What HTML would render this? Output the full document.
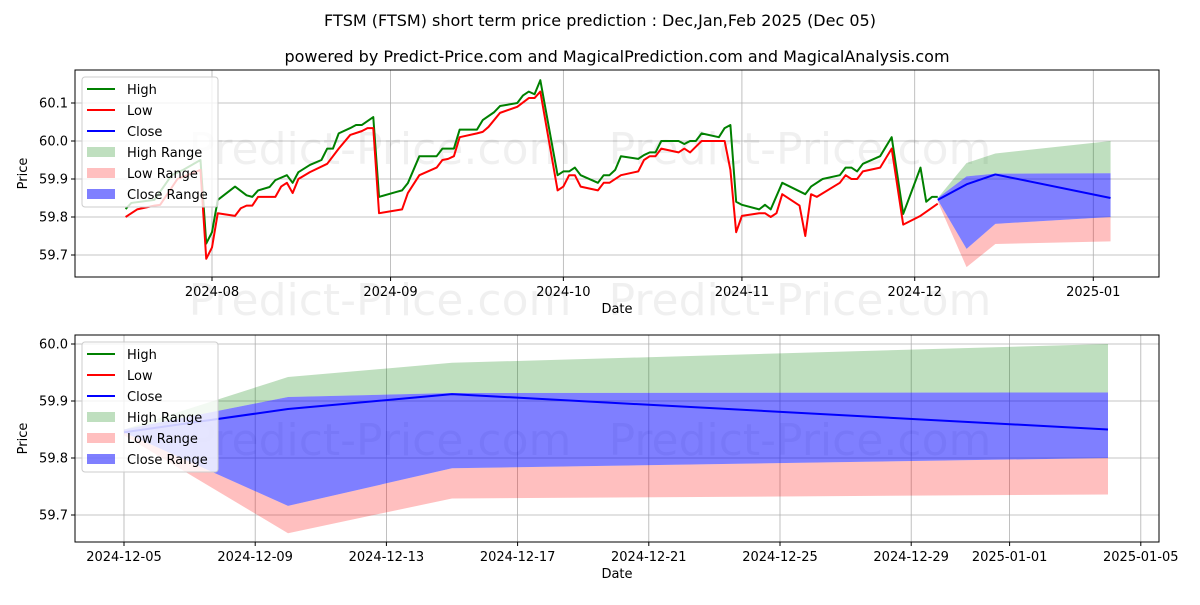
<!DOCTYPE html>
<html><head><meta charset="utf-8"><style>
body{margin:0;background:#fff;}
svg text{font-family:"DejaVu Sans","Liberation Sans",sans-serif;}
</style></head><body>
<svg id="svg" width="1200" height="600" xmlns="http://www.w3.org/2000/svg">
<text x="600" y="26" text-anchor="middle" font-size="16">FTSM (FTSM) short term price prediction : Dec,Jan,Feb 2025 (Dec 05)</text>
<text x="617" y="62" text-anchor="middle" font-size="16">powered by Predict-Price.com and MagicalPrediction.com and MagicalAnalysis.com</text>
<g id="topPanel"></g>
<g id="botPanel"></g>
</svg>
<script>
// History (day offsets from 2024-08-01)
const highDays=[-15,-14,-10,-7,-5,-2,-1,0,1,4,6,7,8,10,11,13,14,15,17,19,20,21,22,24,25,26,28,29,32,33,34,36,39,40,42,43,46,47,49,50,53,54,55,56,57,60,61,62,63,64,67,68,69,70,71,74,75,76,77,78,81,82,83,84,85,88,89,90,91,92,95,96,97,99,103,104,106,109,110,111,112,113,116,118,120,123,124,125,126];
const highVals=[59.821,59.837,59.845,59.91,59.924,59.95,59.73,59.76,59.845,59.88,59.857,59.853,59.87,59.879,59.897,59.91,59.89,59.918,59.937,59.95,59.98,59.98,60.02,60.034,60.042,60.042,60.063,59.853,59.866,59.87,59.889,59.96,59.96,59.98,59.98,60.03,60.03,60.055,60.076,60.092,60.1,60.12,60.13,60.123,60.16,59.91,59.92,59.92,59.93,59.91,59.89,59.91,59.91,59.924,59.96,59.953,59.963,59.97,59.97,60.0,60.0,59.992,60.0,60.0,60.02,60.01,60.034,60.042,59.84,59.832,59.82,59.832,59.82,59.89,59.86,59.88,59.9,59.91,59.93,59.93,59.92,59.94,59.96,60.01,59.808,59.93,59.84,59.853,59.853];
const lowDays=[-15,-13,-10,-9,-6,-2,-1,0,1,4,5,6,7,8,11,12,13,14,15,17,20,22,24,26,27,28,29,33,34,36,39,40,41,42,43,46,47,48,50,53,55,56,57,60,61,62,63,64,67,68,69,71,74,75,76,77,78,81,82,83,84,85,89,90,91,92,95,96,97,98,99,102,103,104,105,109,110,111,112,113,116,118,120,123,126];
const lowVals=[59.8,59.82,59.83,59.832,59.9,59.924,59.69,59.72,59.81,59.803,59.823,59.83,59.83,59.853,59.853,59.88,59.89,59.863,59.9,59.918,59.94,59.98,60.016,60.026,60.034,60.034,59.81,59.82,59.863,59.91,59.93,59.95,59.953,59.96,60.01,60.02,60.024,60.037,60.074,60.09,60.113,60.113,60.13,59.87,59.88,59.91,59.91,59.88,59.87,59.89,59.89,59.91,59.92,59.95,59.96,59.96,59.98,59.97,59.98,59.97,59.985,60.0,60.0,59.924,59.76,59.803,59.81,59.81,59.8,59.81,59.86,59.83,59.75,59.86,59.853,59.89,59.91,59.9,59.9,59.92,59.93,59.98,59.78,59.803,59.835];
// Forecast (day offsets from 2024-12-05)
const fcDays=[0,5,10,30];
const closeVals=[59.845,59.886,59.912,59.85];
const closeHi=[59.85,59.907,59.914,59.915];
const closeLo=[59.845,59.716,59.782,59.8];
const highHi=[59.85,59.942,59.967,60.0];
const highLo=[59.85,59.907,59.914,59.915];
const lowHi=[59.845,59.716,59.782,59.8];
const lowLo=[59.84,59.668,59.729,59.736];
const topYTicks=[59.7,59.8,59.9,60.0,60.1];
const topXTicks=[0,31,61,92,122,153];
const topXLabels=["2024-08","2024-09","2024-10","2024-11","2024-12","2025-01"];
const botYTicks=[59.7,59.8,59.9,60.0];
const botXTicks=[0,4,8,12,16,20,24,27,31];
const botXLabels=["2024-12-05","2024-12-09","2024-12-13","2024-12-17","2024-12-21","2024-12-25","2024-12-29","2025-01-01","2025-01-05"];
const FC_OFFSET=126;

const NS="http://www.w3.org/2000/svg";
function mk(parent,tag,attrs,text){const e=document.createElementNS(NS,tag);for(const k in attrs)e.setAttribute(k,attrs[k]);if(text!==undefined)e.textContent=text;parent.appendChild(e);return e;}

function drawPanel(g,L,T,R,B,xs,ys,yTicks,xTicks,xLabels,hist,wm){
  yTicks.forEach((v,i)=>{const y=ys(v);
    const gl=mk(g,'line',{x1:L,x2:R,y1:y,y2:y,stroke:'#b0b0b0','stroke-width':0.8});
    
    
    mk(g,'line',{x1:L-4,x2:L,y1:y,y2:y,stroke:'#000'});
    const t=mk(g,'text',{x:L-7,y:y+4.5,'text-anchor':'end','font-size':13},v.toFixed(1));
    
    
  });
  xTicks.forEach((d,i)=>{const x=xs(d);
    const gl=mk(g,'line',{x1:x,x2:x,y1:T,y2:B,stroke:'#b0b0b0','stroke-width':0.8});
    
    
    mk(g,'line',{x1:x,x2:x,y1:B,y2:B+4,stroke:'#000'});
    const t=mk(g,'text',{x:x,y:B+19,'text-anchor':'middle','font-size':13},xLabels[i]);
    
    
  });
  wm.forEach(p=>{
    const w=mk(g,'text',{x:p[0],y:p[1],'text-anchor':'middle','font-size':44,fill:'#000','fill-opacity':0.06},'Predict-Price.com');
    
    
  });
  function band(hi,lo,color,op,name){
    let d='';fcDays.forEach((f,i)=>{d+=(i?'L':'M')+xs(f+(hist?FC_OFFSET:0))+','+ys(hi[i]);});
    for(let i=fcDays.length-1;i>=0;i--)d+='L'+xs(fcDays[i]+(hist?FC_OFFSET:0))+','+ys(lo[i]);
    const p=mk(g,'path',{d:d+'Z',fill:color,'fill-opacity':op,stroke:'none'});
    
    
  }
  band(highHi,highLo,'green',0.25,'high-range-band');
  band(lowHi,lowLo,'red',0.25,'low-range-band');
  band(closeHi,closeLo,'blue',0.5,'close-range-band');
  function line(days,vals,off,color,name){
    const pts=days.map((d,i)=>xs(d+off)+','+ys(vals[i])).join(' ');
    const p=mk(g,'polyline',{points:pts,fill:'none',stroke:color,'stroke-width':2,'stroke-linejoin':'round'});
    
    
  }
  if(hist){line(highDays,highVals,0,'green','high-line');line(lowDays,lowVals,0,'red','low-line');}
  line(fcDays,closeVals,hist?FC_OFFSET:0,'blue','close-line');
  const fr=mk(g,'rect',{x:L,y:T,width:R-L,height:B-T,fill:'none',stroke:'#000','stroke-width':1});
  
  
  const xl=mk(g,'text',{x:(L+R)/2,y:B+36,'text-anchor':'middle','font-size':13},'Date');
  
  
  const yl=mk(g,'text',{x:0,y:0,'text-anchor':'middle','font-size':13,transform:`translate(27,${(T+B)/2}) rotate(-90)`},'Price');
  
  
  const lg=mk(g,'g',{});
  
  
  mk(lg,'rect',{x:L+7,y:T+7,width:136,height:130,rx:3,fill:'#fff','fill-opacity':0.8,stroke:'#ccc'});
  const items=[['High','green','line'],['Low','red','line'],['Close','blue','line'],['High Range','green','patch',0.25],['Low Range','red','patch',0.25],['Close Range','blue','patch',0.5]];
  items.forEach((it,i)=>{const y=T+19+i*21;
    const e=mk(lg,'g',{});
    
    
    if(it[2]==='line')mk(e,'line',{x1:L+12,x2:L+40,y1:y,y2:y,stroke:it[1],'stroke-width':2});
    else mk(e,'rect',{x:L+12,y:y-5,width:28,height:10,fill:it[1],'fill-opacity':it[3]});
    mk(e,'text',{x:L+52,y:y+5,'font-size':13},it[0]);
  });
}
const topG=document.getElementById('topPanel');
drawPanel(topG,75,70,1159,277,d=>212+5.76*d,v=>141+(60.0-v)*380,topYTicks,topXTicks,topXLabels,true,[[380,164],[800,164],[380,315],[800,315]]);
const botG=document.getElementById('botPanel');
drawPanel(botG,75,335,1159,542,d=>124+32.8*d,v=>401+(59.9-v)*570,botYTicks,botXTicks,botXLabels,false,[[380,455],[800,455]]);
</script>
</body></html>
